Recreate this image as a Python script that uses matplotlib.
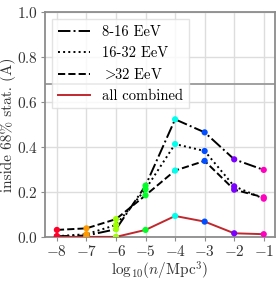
import numpy as np
import matplotlib
matplotlib.use("Agg")
import matplotlib.pyplot as plt

plt.rcParams["font.family"] = "serif"
plt.rcParams["font.serif"] = ["cmr10"]
plt.rcParams["mathtext.fontset"] = "cm"
plt.rcParams["axes.formatter.use_mathtext"] = True
plt.rcParams["font.size"] = 11

# log10 of source density
log_n = [-8, -7, -6, -5, -4, -3, -2, -1]

# fraction inside 68% stat. region
e8_16 = [0.003, 0.006, 0.034, 0.228, 0.523, 0.465, 0.345, 0.298]
e16_32 = [0.003, 0.012, 0.053, 0.212, 0.413, 0.382, 0.225, 0.170]
e32 = [0.031, 0.038, 0.079, 0.185, 0.295, 0.338, 0.210, 0.176]
combined = [0.0, 0.0, 0.0, 0.031, 0.093, 0.068, 0.016, 0.012]

series = [
    (e8_16, "-.", "8-16 EeV", "black"),
    (e16_32, ":", "16-32 EeV", "black"),
    (e32, "--", r"$>\!\!$32 EeV", "black"),
    (combined, "-", "all combined", "#c0282d"),
]

cmap = plt.get_cmap("gist_rainbow")
pt_colors = cmap(np.linspace(0, 1, len(log_n)))

fig = plt.figure(figsize=(2.8, 2.81), dpi=100)
ax = fig.add_axes([0.161, 0.157, 0.821, 0.800])

for vals, ls, lab, col in series:
    ax.plot(log_n, vals, ls=ls, color=col, lw=1.4, label=lab, zorder=3)
    ax.scatter(log_n, vals, c=pt_colors, s=20, zorder=4, linewidths=0)

ax.axhline(0.68, color="#999999", lw=1.3, zorder=1)

ax.set_xlim(-8.4, -0.62)
ax.set_ylim(0, 1.0)
ax.set_xticks(log_n)
ax.set_yticks([0.0, 0.2, 0.4, 0.6, 0.8, 1.0])
ax.grid(True, color="#dddddd", lw=1.0, zorder=0)
ax.set_axisbelow(True)
for s in ax.spines.values():
    s.set_color("#8c8c8c")
    s.set_linewidth(1.3)
ax.tick_params(colors="#8c8c8c", labelcolor="#333333", length=3, width=0.8,
               labelsize=11, pad=2)

ax.set_xlabel(r"$\mathrm{log}_{10}(n/\mathrm{Mpc}^3)$", color="#333333", labelpad=1)
ax.set_ylabel("inside 68% stat. (A)", color="#333333", labelpad=1)

ax.legend(loc="upper left", handlelength=2.2, fontsize=10.5, fancybox=False,
          edgecolor="#dddddd", borderaxespad=0.5)

fig.savefig("out.png", dpi=100)
